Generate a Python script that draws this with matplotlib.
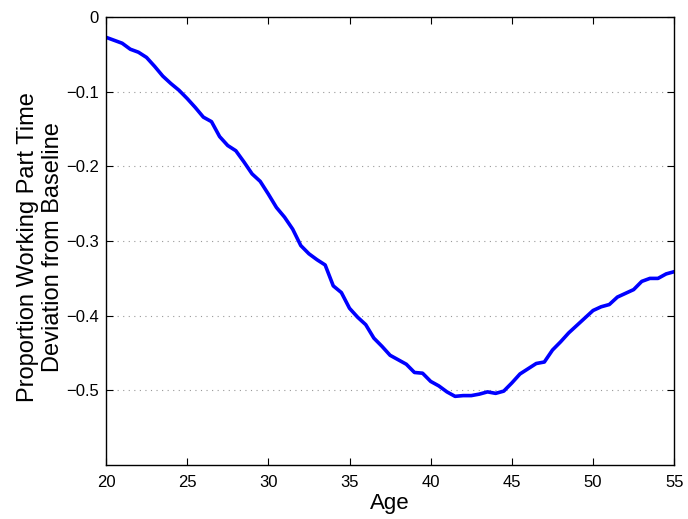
import numpy as np
import matplotlib
matplotlib.use("Agg")
import matplotlib.pyplot as plt

plt.rcParams['font.family'] = ['Liberation Sans', 'DejaVu Sans']

# ages sampled every half year
age = np.arange(20, 55.01, 0.5)
deviation = [-0.027, -0.031, -0.035, -0.043, -0.047, -0.054, -0.066, -0.079, -0.089, -0.098,
             -0.109, -0.121, -0.134, -0.140, -0.160, -0.172, -0.179, -0.194, -0.210, -0.220,
             -0.237, -0.255, -0.268, -0.284, -0.306, -0.317, -0.325, -0.332, -0.360, -0.369,
             -0.390, -0.402, -0.412, -0.430, -0.441, -0.453, -0.459, -0.465, -0.476, -0.477,
             -0.488, -0.494, -0.502, -0.508, -0.507, -0.507, -0.505, -0.502, -0.504, -0.501,
             -0.490, -0.478, -0.471, -0.464, -0.462, -0.446, -0.435, -0.423, -0.413, -0.403,
             -0.393, -0.388, -0.385, -0.375, -0.370, -0.365, -0.354, -0.350, -0.350, -0.344,
             -0.341]

xticks = [20, 25, 30, 35, 40, 45, 50, 55]
yticks = [0, -0.1, -0.2, -0.3, -0.4, -0.5]
ytick_labels = ['0', '\u22120.1', '\u22120.2', '\u22120.3', '\u22120.4', '\u22120.5']

fig = plt.figure(figsize=(6.88, 5.19), dpi=100)
ax = fig.add_axes([0.154, 0.104, 0.826, 0.863])

ax.plot(age, deviation, color='#0000ff', linewidth=2.6)

ax.set_xlim(20, 55)
ax.set_ylim(-0.6, 0)
ax.set_xticks(xticks)
ax.set_yticks(yticks)
ax.set_yticklabels(ytick_labels)
ax.tick_params(direction='in', top=True, right=True, length=5, labelsize=12)
ax.tick_params(axis='x', pad=7)
ax.tick_params(axis='y', pad=5)
ax.yaxis.grid(True, linestyle=(0, (1, 4)), color='#999999', linewidth=0.8)
for s in ax.spines.values():
    s.set_linewidth(1.0)

ax.set_xlabel('Age', fontsize=16, labelpad=2)
ax.set_ylabel('Proportion Working Part Time\nDeviation from Baseline', fontsize=17,
              linespacing=1.15)
ax.yaxis.set_label_coords(-0.074, 0.487)

plt.savefig('out.png', dpi=100)
